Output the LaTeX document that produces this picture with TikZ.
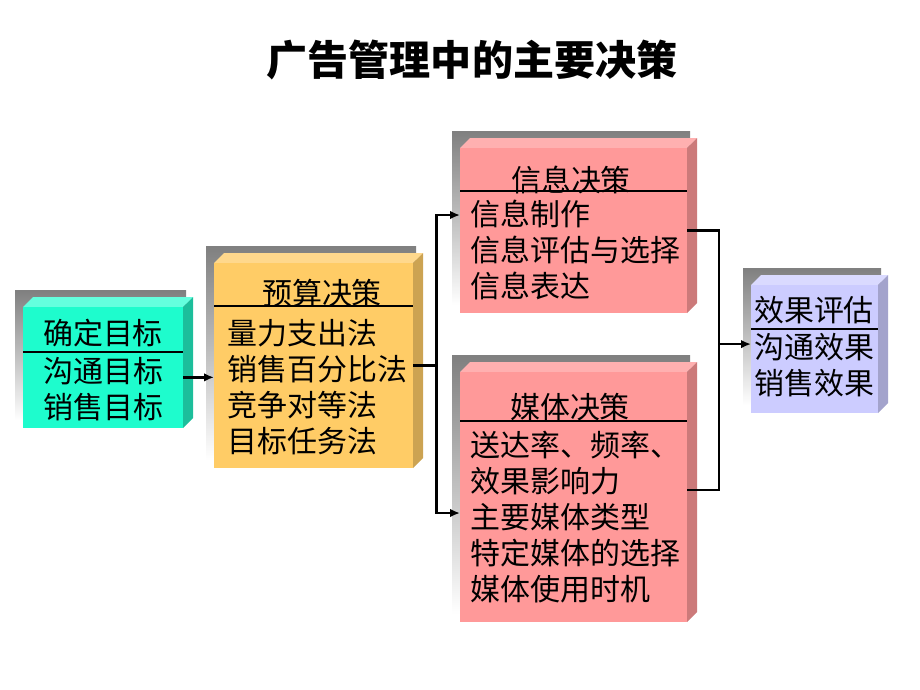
\documentclass[tikz,border=0pt]{standalone}
\usepackage{fontspec}
\setmainfont{Noto Sans CJK SC}
\usepackage{tikz}
\usetikzlibrary{arrows.meta,positioning,fit,calc}
\definecolor{shade}{RGB}{160,160,160}
\definecolor{tealface}{RGB}{30,252,205}
\definecolor{tealtop}{RGB}{100,255,222}
\definecolor{tealside}{RGB}{28,190,155}
\definecolor{yellowface}{RGB}{255,204,102}
\definecolor{yellowtop}{RGB}{255,216,140}
\definecolor{yellowside}{RGB}{204,163,82}
\definecolor{pinkface}{RGB}{255,153,153}
\definecolor{pinktop}{RGB}{255,176,176}
\definecolor{pinkside}{RGB}{204,122,122}
\definecolor{lilacface}{RGB}{204,204,255}
\definecolor{lilactop}{RGB}{218,218,255}
\definecolor{lilacside}{RGB}{163,163,204}

\tikzset{
  face/.style={inner sep=0, outer sep=0},
  head/.style={inner sep=0, font=\fontsize{21.3}{25.6}\selectfont},
  body/.style={inner sep=0, anchor=west, align=left, font=\fontsize{21.3}{25.6}\selectfont},
  rule/.style={line width=1.3pt},
  link/.style={line width=1.7pt},
  arr/.style={link, -{Latex[length=7pt,width=6pt]}},
}

% shadow, top, side and front of one box: name, left, top, right, bottom, colour
\newcommand{\solidbox}[6]{%
  \fill[shade] (#2-8,#3-17) rectangle (#4+3,#5-8);
  \fill[#6top] (#2,#3) -- (#2+10,#3-10) -- (#4+10,#3-10) -- (#4,#3) -- cycle;
  \fill[#6side] (#4,#3) -- (#4+10,#3-10) -- (#4+10,#5-10) -- (#4,#5) -- cycle;
  \node[face, fill=#6face, fit={(#2,#3) (#4,#5)}] (#1) {};
}

\begin{document}
\begin{tikzpicture}[x=0.025cm, y=-0.025cm]
\useasboundingbox (0,0) rectangle (920,690);

\node[font=\fontsize{29.2}{34}\selectfont\bfseries, inner sep=0] (title) at (472,60)
  {广告管理中的主要决策};

\solidbox{goal}{23}{307}{183}{428}{teal}
\solidbox{budget}{214}{263}{413}{468}{yellow}
\solidbox{info}{460}{148}{687}{313}{pink}
\solidbox{media}{460}{372}{687}{622}{pink}
\solidbox{eval}{751}{285}{878}{413}{lilac}

\draw[rule] (23,352) -- (183,352);
\draw[rule] (214,306) -- (413,306);
\draw[rule] (460,191) -- (687,191);
\draw[rule] (460,421) -- (687,421);
\draw[rule] (751,329) -- (878,329);

\node[head] (goalhead) at (103,333) {确定目标};
\node[body] (goalbody) at (43,389) {沟通目标\\销售目标};

\node[head] (budgethead) at (322,293) {预算决策};
\node[body] (budgetbody) at (227,387) {量力支出法\\销售百分比法\\竞争对等法\\目标任务法};

\node[head] (infohead) at (571,180) {信息决策};
\node[body] (infobody) at (470,250) {信息制作\\信息评估与选择\\信息表达};

\node[head] (mediahead) at (570,407) {媒体决策};
\node[body] (mediabody) at (470,517.5)
  {送达率、频率、\\效果影响力\\主要媒体类型\\特定媒体的选择\\媒体使用时机};

\node[head] (evalhead) at (814,310) {效果评估};
\node[body] (evalbody) at (754,365.5) {沟通效果\\销售效果};

% connectors
\coordinate (g) at ([yshift=-7pt]goal.east);
\draw[arr] (g) -- (g -| budget.west);

\coordinate (fork) at ($(budget.east)!.5!(info.west |- budget.east)$);
\draw[link] (budget.east) -- (fork);
\draw[arr] (fork) |- ([yshift=11pt]info.west);
\draw[arr] (fork) |- ([yshift=-11.4pt]media.west);

\coordinate (join) at ($(info.east)!.5!(eval.west)$);
\coordinate (ea) at ([yshift=3.5pt]eval.west);
\draw[link] (info.east) -| (join) |- ([yshift=5pt]media.east);
\draw[arr] (join |- ea) -- (ea);
\end{tikzpicture}
\end{document}
